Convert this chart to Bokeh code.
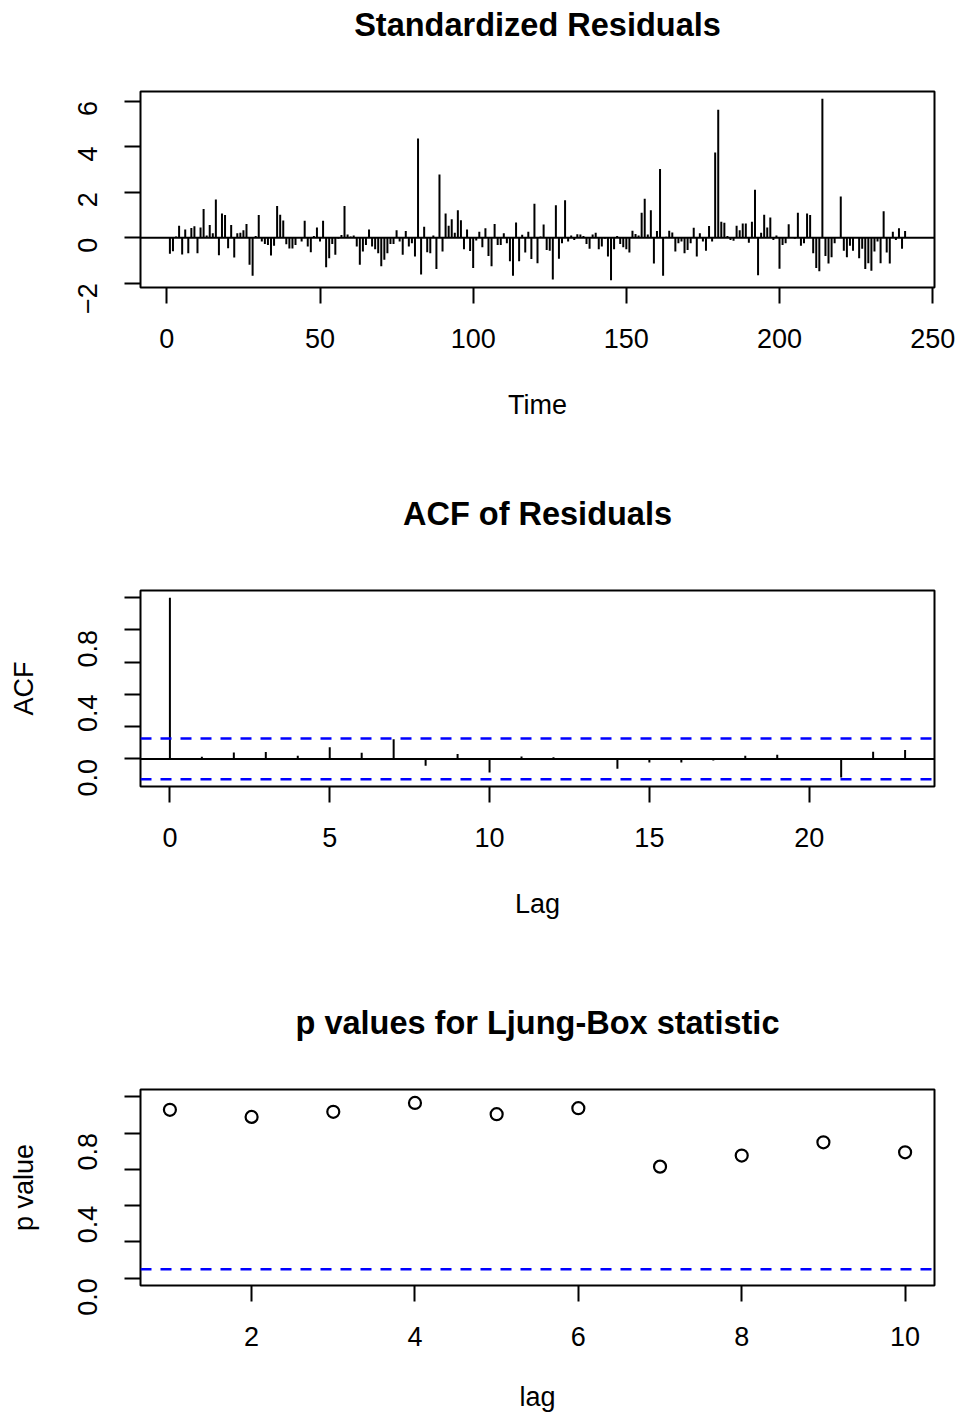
import math
from bokeh.plotting import figure
from bokeh.models import Span, FixedTicker, Range1d, LinearAxis
from bokeh.layouts import column
from bokeh.embed import file_html
from bokeh.resources import INLINE

# ---------------- data ----------------
time = list(range(1, 242))
resid = [
    -0.71, -0.60, 0.05, 0.52, -0.74, 0.36, -0.68, 0.42, 0.50, -0.68,
    0.45, 1.26, 0.10, 0.56, 0.19, 1.68, -0.77, 1.06, 1.00, -0.46,
    0.56, -0.87, 0.19, 0.22, 0.33, 0.60, -1.19, -1.67, 0.07, 0.99,
    -0.17, -0.28, -0.32, -0.78, -0.36, 1.39, 1.01, 0.75, -0.29, -0.48,
    -0.48, -0.32, 0.03, -0.17, 0.74, -0.39, -0.64, 0.07, 0.45, -0.17,
    0.74, -1.30, -0.90, -0.28, -0.75, -0.05, 0.12, 1.39, 0.14, 0.05,
    0.10, -0.39, -1.19, -0.61, -0.32, 0.36, -0.39, -0.51, -0.68, -1.26,
    -0.97, -0.68, -0.28, -0.28, 0.33, -0.17, -0.75, 0.29, -0.39, -0.25,
    -0.83, 4.35, -1.62, 0.48, -0.64, -0.68, 0.10, -1.38, 2.77, -0.61,
    1.06, 0.52, 0.81, 0.22, 1.20, 0.77, -0.51, 0.36, -0.59, -1.33,
    -0.13, 0.26, -0.42, 0.41, -0.80, -1.26, 0.60, -0.32, -0.32, 0.19,
    -0.25, -1.04, -1.67, 0.67, -1.04, 0.13, -0.65, 0.26, -0.94, 1.49,
    -1.12, 0.05, 0.58, -0.54, -0.57, -1.84, 1.42, -0.93, -0.25, 1.64,
    -0.17, 0.10, -0.10, 0.15, 0.14, 0.07, -0.28, -0.49, 0.14, 0.22,
    -0.51, -0.39, -0.05, -0.83, -1.87, -0.51, 0.07, -0.28, -0.42, -0.51,
    -0.65, 0.30, 0.16, 0.09, 1.09, 1.71, 0.14, 1.20, -1.14, 0.29,
    3.01, -1.67, 0.04, 0.30, 0.23, -0.61, -0.25, -0.17, -0.68, -0.54,
    -0.25, 0.43, -0.83, 0.19, -0.17, -0.58, 0.51, -0.17, 3.74, 5.62,
    0.70, 0.65, 0.07, -0.10, -0.14, 0.52, 0.33, 0.62, 0.62, -0.22,
    0.70, 2.10, -1.65, 0.22, 1.01, 0.45, 0.88, -0.10, 0.10, -1.36,
    -0.32, -0.25, 0.59, 0.03, -0.05, 1.09, -0.36, -0.25, 1.06, 0.99,
    -0.68, -1.33, -1.48, 6.10, -0.80, -1.14, -0.86, -0.25, 0.03, 1.81,
    -0.58, -0.86, -0.36, -0.58, 0.03, -0.90, -0.49, -1.38, -1.12, -1.45,
    -0.61, -0.17, -1.12, 1.16, -0.65, -1.14, 0.26, -0.10, 0.41, -0.49,
    0.29,
]
resid_xticks = [0, 50, 100, 150, 200, 250]
resid_yticks = [-2, 0, 2, 4, 6]

acf_lag = list(range(0, 24))
acf_val = [1.0, 0.013, 0.040, 0.042, 0.020, 0.073, 0.038, 0.122, -0.042, 0.030,
           -0.084, 0.015, 0.010, -0.006, -0.061, -0.023, -0.023, -0.010, 0.019, 0.025,
           0.003, -0.115, 0.044, 0.055]
acf_ci = 0.1263
acf_xticks = [0, 5, 10, 15, 20]
prob_yticks = [0.0, 0.2, 0.4, 0.6, 0.8, 1.0]
prob_labels = {0.0: "0.0", 0.2: "", 0.4: "0.4", 0.6: "", 0.8: "0.8", 1.0: ""}

lb_lag = list(range(1, 11))
lb_p = [0.928, 0.889, 0.917, 0.966, 0.904, 0.937, 0.615, 0.676, 0.749, 0.694]
lb_level = 0.05
lb_xticks = [2, 4, 6, 8, 10]

titles = ["Standardized Residuals", "ACF of Residuals", "p values for Ljung-Box statistic"]

FONT = "Liberation Sans"
LW = 2.0
W = 958
FL = 140   # frame left
FW = 794   # frame width
FH = 196   # frame height


def pad(lo, hi):
    d = (hi - lo) * 0.04
    return Range1d(lo - d, hi + d)


def make_fig(h, top, xr, yr, title, title_gap, xticks, yticks, xlabel,
             ylabel=None, ylabels=None, xlabel_gap=39):
    p = figure(width=W, height=h, x_range=xr, y_range=yr,
               output_backend="svg", toolbar_location=None, title_location=None,
               min_border_left=FL, min_border_right=W - FL - FW,
               min_border_top=top, min_border_bottom=h - top - FH)
    p.xgrid.visible = False
    p.ygrid.visible = False
    p.outline_line_color = "black"
    p.outline_line_width = LW
    p.background_fill_color = "white"
    p.border_fill_color = "white"
    bx = p.below[0]
    ly = p.left[0]
    for ax in (bx, ly):
        ax.axis_line_color = None
        ax.major_tick_line_color = "black"
        ax.major_tick_line_width = LW
        ax.major_tick_out = 16
        ax.major_tick_in = 0
        ax.minor_tick_line_color = None
        ax.major_label_text_font = FONT
        ax.major_label_text_font_size = "27px"
        ax.major_label_text_color = "black"
        ax.axis_label_text_font = FONT
        ax.axis_label_text_font_size = "27px"
        ax.axis_label_text_font_style = "normal"
        ax.axis_label_text_color = "black"
    bx.major_label_standoff = 25
    bx.axis_label_standoff = xlabel_gap
    bx.ticker = FixedTicker(ticks=xticks)
    bx.axis_label = xlabel
    ly.major_label_orientation = math.pi / 2
    ly.major_label_standoff = 37
    ly.axis_label_standoff = 27
    ly.ticker = FixedTicker(ticks=yticks)
    if ylabels is not None:
        ly.major_label_overrides = ylabels
    if ylabel is not None:
        ly.axis_label = ylabel
    # main title: label of a tickless axis above the frame, centred on the frame
    ta = LinearAxis(ticker=FixedTicker(ticks=[]), axis_label=title,
                    axis_line_color=None, major_tick_line_color=None,
                    minor_tick_line_color=None, major_tick_out=0, major_tick_in=0,
                    major_label_standoff=0, axis_label_standoff=title_gap,
                    axis_label_text_font=FONT, axis_label_text_font_size="32.5px",
                    axis_label_text_font_style="bold", axis_label_text_color="black")
    p.add_layout(ta, "above")
    return p


# ---------------- panel 1: standardized residuals ----------------
p1 = make_fig(472, 91, pad(min(time), max(time)), pad(min(resid), max(resid)),
              titles[0], 49, resid_xticks, resid_yticks, "Time")
p1.segment(x0=time, y0=[0] * len(time), x1=time, y1=resid, line_color="black", line_width=LW)
p1.add_layout(Span(location=0, dimension="width", line_color="black", line_width=LW))

# ---------------- panel 2: ACF ----------------
p2 = make_fig(466, 118, pad(min(acf_lag), max(acf_lag)),
              pad(min(min(acf_val), -acf_ci), max(max(acf_val), acf_ci)),
              titles[1], 59, acf_xticks, prob_yticks, "Lag", "ACF", prob_labels)
p2.segment(x0=acf_lag, y0=[0] * len(acf_lag), x1=acf_lag, y1=acf_val, line_color="black", line_width=LW)
p2.add_layout(Span(location=0, dimension="width", line_color="black", line_width=LW))
for c in (acf_ci, -acf_ci):
    p2.add_layout(Span(location=c, dimension="width", line_color="#0000FF",
                       line_width=2.5, line_dash="11 9"))

# ---------------- panel 3: Ljung-Box p values ----------------
p3 = make_fig(478, 151, pad(min(lb_lag), max(lb_lag)), pad(0.0, 1.0),
              titles[2], 49, lb_xticks, prob_yticks, "lag", "p value", prob_labels,
              xlabel_gap=33)
p3.scatter(lb_lag, lb_p, marker="circle", size=12, fill_color=None,
           line_color="black", line_width=2.2)
p3.add_layout(Span(location=lb_level, dimension="width", line_color="#0000FF",
                   line_width=2.5, line_dash="11 9"))

layout = column(p1, p2, p3, spacing=0)
open("out.html", "w").write(file_html(layout, INLINE))
